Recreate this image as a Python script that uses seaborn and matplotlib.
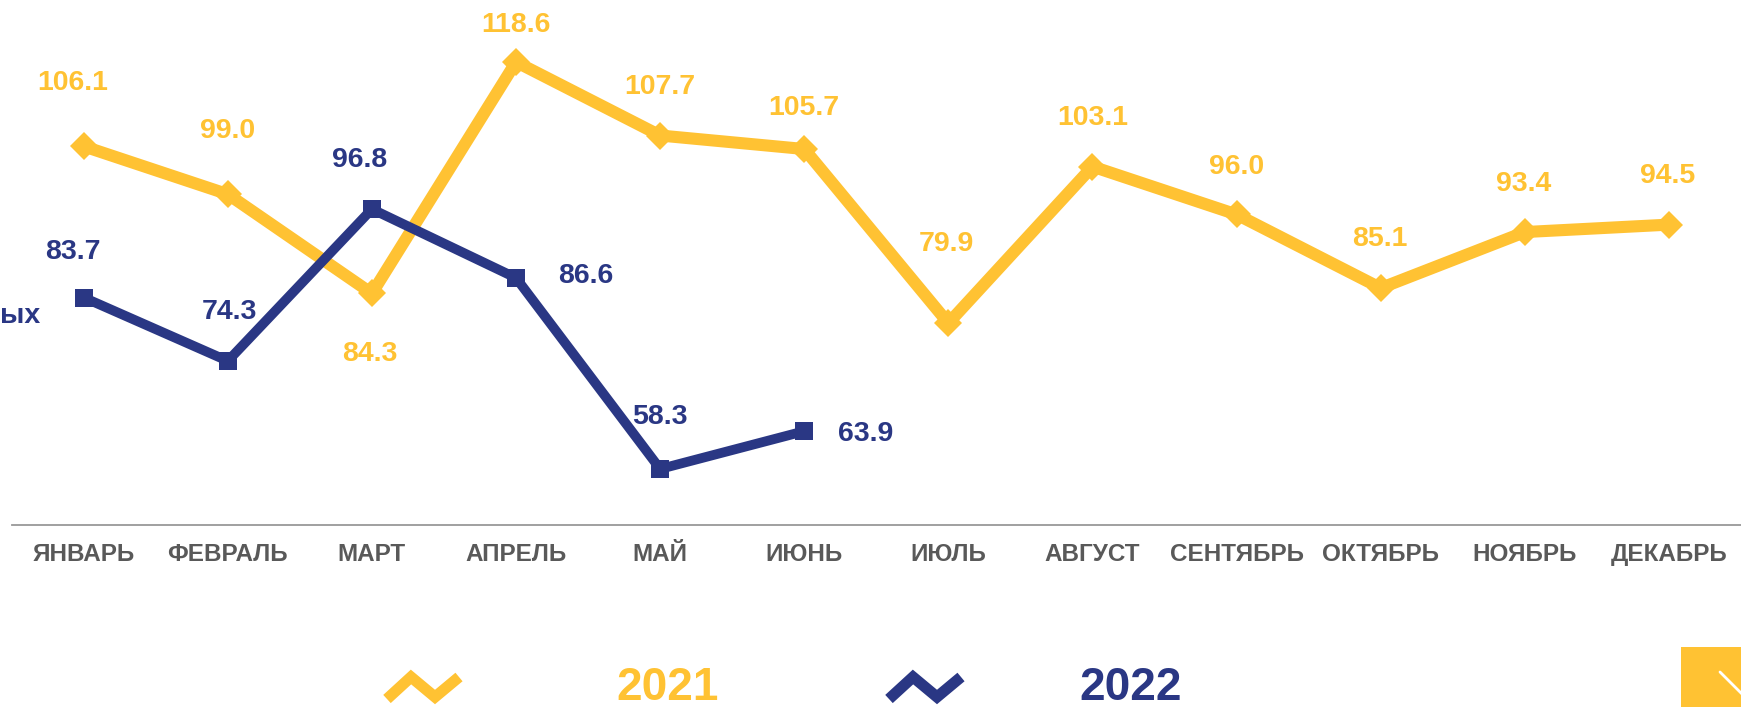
import pandas as pd
import seaborn as sns
import matplotlib.pyplot as plt
from matplotlib.lines import Line2D
from matplotlib.patches import Rectangle

# ---- Data ----
months = ['ЯНВАРЬ', 'ФЕВРАЛЬ', 'МАРТ', 'АПРЕЛЬ', 'МАЙ', 'ИЮНЬ',
          'ИЮЛЬ', 'АВГУСТ', 'СЕНТЯБРЬ', 'ОКТЯБРЬ', 'НОЯБРЬ', 'ДЕКАБРЬ']
values_2021 = [106.1, 99.0, 84.3, 118.6, 107.7, 105.7, 79.9, 103.1, 96.0, 85.1, 93.4, 94.5]
values_2022 = [83.7, 74.3, 96.8, 86.6, 58.3, 63.9]

# label offsets in pixels (dx, dy)
offs_2021 = [(-11, 63), (0, 63), (-2, -61), (0, 37), (0, 49), (0, 41),
             (-2, 79), (0, 49), (0, 47), (-1, 49), (-1, 48), (-1, 49)]
offs_2022 = [(-11, 46), (2, 49), (-12, 49), (70, 2), (0, 52), (61, -3)]

YELLOW = '#FFC233'
NAVY = '#2A3784'
GRAY = '#595959'

sns.set_style('white')
plt.rcParams['font.family'] = ['Liberation Sans', 'DejaVu Sans']

W, H = 1741, 707
STEP = 145.3   # px per month
LEFT = 11.65   # px, axis start
AX_Y = 525     # px from top, axis line
PPU = 6.75     # px per unit
fig = plt.figure(figsize=(W / 100, H / 100), dpi=100)
ax = fig.add_axes([LEFT / W, (H - AX_Y) / H, (W - LEFT) / W, AX_Y / H])

df21 = pd.DataFrame({'x': range(len(values_2021)), 'y': values_2021})
df22 = pd.DataFrame({'x': range(len(values_2022)), 'y': values_2022})

sns.lineplot(data=df21, x='x', y='y', ax=ax, color=YELLOW, lw=8.7,
             marker='D', markersize=14.5, markeredgewidth=0, sort=False)
sns.lineplot(data=df22, x='x', y='y', ax=ax, color=NAVY, lw=7,
             marker='s', markersize=13.5, markeredgewidth=0, sort=False)

for i, (v, o) in enumerate(zip(values_2021, offs_2021)):
    ax.annotate(f'{v:.1f}', (i, v), xytext=o, textcoords='offset pixels',
                ha='center', va='center', fontsize=20.5, fontweight='bold', color=YELLOW)
for i, (v, o) in enumerate(zip(values_2022, offs_2022)):
    ax.annotate(f'{v:.1f}', (i, v), xytext=o, textcoords='offset pixels',
                ha='center', va='center', fontsize=20.5, fontweight='bold', color=NAVY)

ax.set_xlim(-0.5, -0.5 + (W - LEFT) / STEP)
ax.set_ylim(50, 50 + AX_Y / PPU)
ax.set_xticks(range(len(months)))
ax.set_xticklabels(months, fontsize=17.5, fontweight='bold', color=GRAY)
ax.set_xticks([i - 0.5 for i in range(len(months) + 1)], minor=True)
ax.tick_params(axis='x', which='major', length=0, pad=13)
ax.tick_params(axis='x', which='minor', length=8, width=1.3, color='#999999', direction='out')
ax.set_yticks([])
ax.set_xlabel('')
ax.set_ylabel('')
for s in ['top', 'right', 'left']:
    ax.spines[s].set_visible(False)
ax.spines['bottom'].set_color('#999999')
ax.spines['bottom'].set_linewidth(1.3)

# cut-off axis title at left edge
fig.text(0, 1 - 316 / H, 'ых', ha='left', va='center', fontsize=20.5,
         fontweight='bold', color=NAVY)

# ---- Legend ----
def px(x, y):
    return x / W, 1 - y / H

for x0, col in [(387, YELLOW), (889, NAVY)]:
    pts = [px(x0, 699), px(x0 + 24, 677), px(x0 + 48, 697), px(x0 + 72, 677)]
    fig.add_artist(Line2D([p[0] for p in pts], [p[1] for p in pts], transform=fig.transFigure,
                          color=col, lw=8, solid_joinstyle='miter', solid_capstyle='butt'))

narrow = ['Liberation Sans Narrow', 'Liberation Sans', 'DejaVu Sans']
fig.text(616 / W, 1 - 700 / H, '2021', ha='left', va='baseline', fontsize=33,
         fontweight='bold', color=YELLOW, family=narrow)
fig.text(1079 / W, 1 - 700 / H, '2022', ha='left', va='baseline', fontsize=33,
         fontweight='bold', color=NAVY, family=narrow)

# yellow corner box
fig.add_artist(Rectangle(px(1681, 707), 60 / W, 60 / H, transform=fig.transFigure,
                         color=YELLOW, lw=0))
fig.add_artist(Line2D([1720 / W, 1745 / W], [1 - 672 / H, 1 - 697 / H],
                      transform=fig.transFigure, color='white', lw=2))

plt.savefig('out.png', dpi=100)
plt.close()
